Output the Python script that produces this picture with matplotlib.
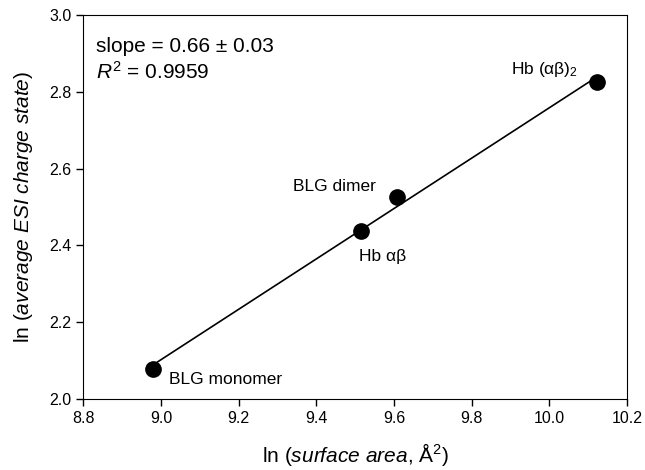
import matplotlib
matplotlib.use("Agg")
import matplotlib.pyplot as plt
import numpy as np

plt.rcParams['font.family'] = ['Liberation Sans', 'DejaVu Sans']
plt.rcParams['mathtext.fontset'] = 'custom'
plt.rcParams['mathtext.rm'] = 'Liberation Sans'
plt.rcParams['mathtext.it'] = 'Liberation Sans:italic'
plt.rcParams['mathtext.bf'] = 'Liberation Sans:bold'

names = ["BLG monomer", "Hb αβ", "BLG dimer", "Hb (αβ)$_2$"]
ln_area = [8.98, 9.514, 9.607, 10.124]
ln_charge = [2.078, 2.438, 2.527, 2.826]
label_pos = [(9.022, 2.052, 'left'), (9.511, 2.370, 'left'), (9.339, 2.553, 'left'), (10.073, 2.858, 'right')]

fig = plt.figure(figsize=(6.45, 4.7), dpi=100)
ax = fig.add_axes([0.129, 0.151, 0.843, 0.817])

coef = np.polyfit(ln_area, ln_charge, 1)
xs = np.array([min(ln_area), max(ln_area)])
ax.plot(xs, np.polyval(coef, xs), color='black', lw=1.2, zorder=2)
ax.plot(ln_area, ln_charge, 'o', color='black', ms=11, zorder=3)

for (x, y, ha), n in zip(label_pos, names):
    ax.text(x, y, n, ha=ha, va='center', fontsize=12.5)

ax.text(0.024, 0.917, "slope = 0.66 ± 0.03", transform=ax.transAxes, fontsize=15, va='center')
ax.text(0.024, 0.852, "$R^2$ = 0.9959", transform=ax.transAxes, fontsize=15, va='center')

ax.set_xlim(8.8, 10.2)
ax.set_ylim(2.0, 3.0)
ax.set_xticks(np.arange(8.8, 10.21, 0.2))
ax.set_yticks(np.arange(2.0, 3.01, 0.2))
ax.set_xticklabels([f"{v:.1f}" for v in np.arange(8.8, 10.21, 0.2)])
ax.set_yticklabels([f"{v:.1f}" for v in np.arange(2.0, 3.01, 0.2)])
ax.tick_params(direction='out', length=5, labelsize=11.5, width=1)
ax.set_xlabel(r"ln ($\it{surface\ area}$, Å$^{2}$)", fontsize=15, labelpad=11)
ax.set_ylabel(r"ln ($\it{average\ ESI\ charge\ state}$)", fontsize=15, labelpad=10)

fig.savefig("out.png", dpi=100)
